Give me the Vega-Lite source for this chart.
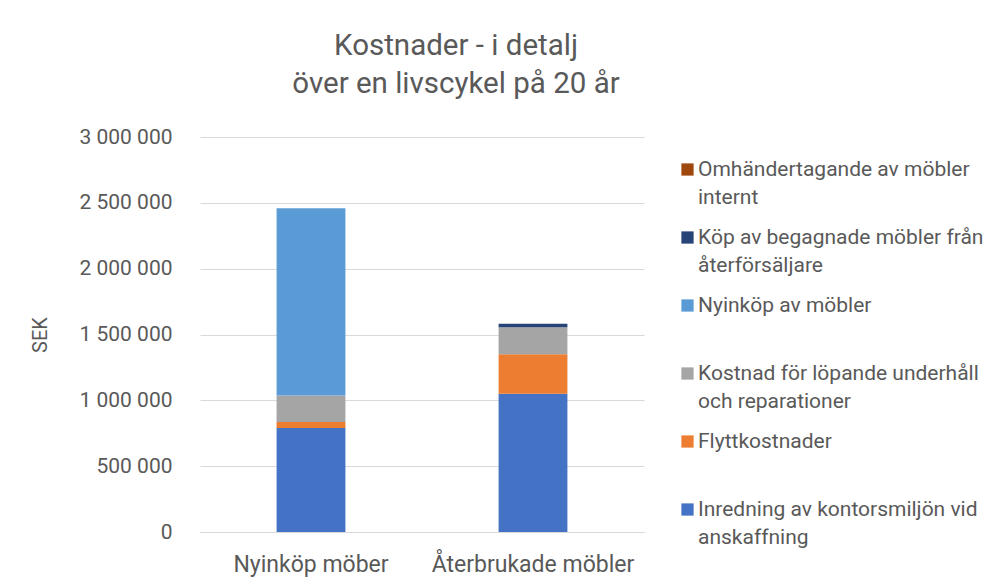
{
  "$schema": "https://vega.github.io/schema/vega-lite/v6.json",
  "width": 444,
  "height": 395,
  "autosize": {"type": "none"},
  "padding": {"left": 200, "top": 137, "right": 347, "bottom": 56},
  "background": "white",
  "config": {
    "font": "Roboto",
    "view": {"stroke": null},
    "style": {"guide-label": {"lineHeight": 28}},
    "locale": {"number": {"decimal": ",", "thousands": " ", "grouping": [3], "currency": ["", " kr"]}}
  },
  "title": {
    "text": ["Kostnader - i detalj", "över en livscykel på 20 år"],
    "fontSize": 29.5,
    "fontWeight": "normal",
    "color": "#595959",
    "lineHeight": 38,
    "anchor": "middle",
    "frame": "group",
    "dx": 34,
    "offset": 27
  },
  "data": {
    "values": [
      {"kategori": "Nyinköp möber", "komponent": "Inredning av kontorsmiljön vid anskaffning", "SEK": 790000},
      {"kategori": "Nyinköp möber", "komponent": "Flyttkostnader", "SEK": 45000},
      {"kategori": "Nyinköp möber", "komponent": "Kostnad för löpande underhåll och reparationer", "SEK": 202000},
      {"kategori": "Nyinköp möber", "komponent": "Nyinköp av möbler", "SEK": 1422000},
      {"kategori": "Nyinköp möber", "komponent": "Köp av begagnade möbler från återförsäljare", "SEK": 0},
      {"kategori": "Nyinköp möber", "komponent": "Omhändertagande av möbler internt", "SEK": 0},
      {"kategori": "Återbrukade möbler", "komponent": "Inredning av kontorsmiljön vid anskaffning", "SEK": 1050000},
      {"kategori": "Återbrukade möbler", "komponent": "Flyttkostnader", "SEK": 300000},
      {"kategori": "Återbrukade möbler", "komponent": "Kostnad för löpande underhåll och reparationer", "SEK": 205000},
      {"kategori": "Återbrukade möbler", "komponent": "Nyinköp av möbler", "SEK": 0},
      {"kategori": "Återbrukade möbler", "komponent": "Köp av begagnade möbler från återförsäljare", "SEK": 26000},
      {"kategori": "Återbrukade möbler", "komponent": "Omhändertagande av möbler internt", "SEK": 0}
    ]
  },
  "transform": [
    {"calculate": "indexof(['Inredning av kontorsmiljön vid anskaffning', 'Flyttkostnader', 'Kostnad för löpande underhåll och reparationer', 'Nyinköp av möbler', 'Köp av begagnade möbler från återförsäljare', 'Omhändertagande av möbler internt'], datum.komponent)", "as": "stackordning"}
  ],
  "encoding": {
    "x": {
      "field": "kategori",
      "type": "nominal",
      "sort": ["Nyinköp möber", "Återbrukade möbler"],
      "scale": {"paddingInner": 0.69, "paddingOuter": 0.345},
      "axis": {
        "title": null,
        "labelAngle": 0,
        "labelFontSize": 23,
        "labelColor": "#595959",
        "labelPadding": 21,
        "labelLimit": 400,
        "ticks": false,
        "domainColor": "#d9d9d9",
        "domainWidth": 1
      }
    },
    "y": {
      "field": "SEK",
      "type": "quantitative",
      "stack": "zero",
      "scale": {"domain": [0, 3000000], "nice": false},
      "axis": {
        "title": "SEK",
        "titleFontSize": 20,
        "titleFontWeight": "normal",
        "titleColor": "#595959",
        "titlePadding": 28,
        "values": [0, 500000, 1000000, 1500000, 2000000, 2500000, 3000000],
        "format": ",d",
        "labelFontSize": 21,
        "labelColor": "#595959",
        "labelPadding": 28,
        "ticks": false,
        "domain": false,
        "gridColor": "#d9d9d9",
        "gridWidth": 1
      }
    },
    "order": {"field": "stackordning", "type": "quantitative", "sort": "ascending"}
  },
  "layer": [
    {
      "mark": {"type": "bar"},
      "encoding": {
        "color": {
          "field": "komponent",
          "type": "nominal",
          "scale": {
            "domain": [
              "Inredning av kontorsmiljön vid anskaffning",
              "Flyttkostnader",
              "Kostnad för löpande underhåll och reparationer",
              "Nyinköp av möbler",
              "Köp av begagnade möbler från återförsäljare",
              "Omhändertagande av möbler internt"
            ],
            "range": ["#4472C4", "#ED7D31", "#A5A5A5", "#5B9BD5", "#264478", "#9E480E"]
          },
          "legend": null
        }
      }
    },
    {
      "mark": {"type": "bar", "opacity": 0},
      "encoding": {
        "color": {
          "field": "komponent",
          "type": "nominal",
          "scale": {
            "domain": [
              "Omhändertagande av möbler internt",
              "Köp av begagnade möbler från återförsäljare",
              "Nyinköp av möbler",
              "Kostnad för löpande underhåll och reparationer",
              "Flyttkostnader",
              "Inredning av kontorsmiljön vid anskaffning"
            ],
            "range": ["#9E480E", "#264478", "#5B9BD5", "#A5A5A5", "#ED7D31", "#4472C4"]
          },
          "legend": {
            "title": null,
            "orient": "none",
            "legendX": 477,
            "legendY": 22,
            "symbolType": "square",
            "symbolSize": 150,
            "symbolOpacity": 1,
            "symbolStrokeWidth": 0,
            "labelFontSize": 21,
            "labelColor": "#595959",
            "labelLimit": 400,
            "labelOffset": 0,
            "labelBaseline": "middle",
            "rowPadding": 18,
            "labelExpr": "datum.label == 'Omhändertagande av möbler internt' ? ['Omhändertagande av möbler', 'internt'] : datum.label == 'Köp av begagnade möbler från återförsäljare' ? ['Köp av begagnade möbler från', 'återförsäljare'] : datum.label == 'Kostnad för löpande underhåll och reparationer' ? ['Kostnad för löpande underhåll', 'och reparationer'] : datum.label == 'Inredning av kontorsmiljön vid anskaffning' ? ['Inredning av kontorsmiljön vid', 'anskaffning'] : [datum.label, '']"
          }
        }
      }
    }
  ],
  "resolve": {"scale": {"color": "independent"}}
}
